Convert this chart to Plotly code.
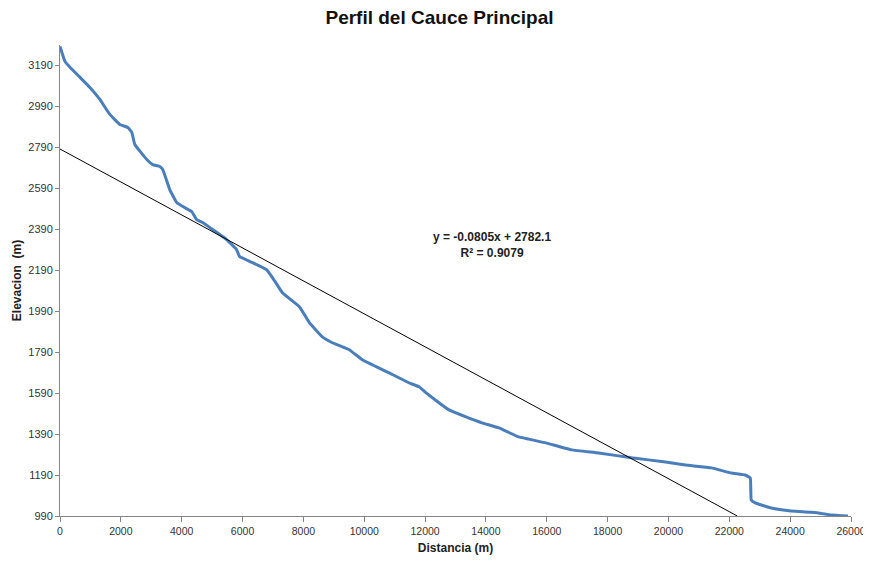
import plotly.graph_objects as go

distancia = [0, 164, 328, 656, 984, 1311, 1639, 1967, 2230, 2361, 2459, 2852, 3049, 3279, 3377,
             3607, 3836, 4098, 4328, 4492, 4689, 5016, 5475, 5803, 5902, 6328, 6787, 6984,
             7311, 7869, 8197, 8623, 8951, 9508, 9934, 10393, 10820, 11475, 11803, 12033,
             12787, 13344, 13869, 14426, 15082, 15967, 16820, 17705, 18787, 19902, 20557,
             21410, 22066, 22525, 22689, 22721, 22852, 23377, 24033, 24918, 25344, 25902]
elevacion = [3283, 3210, 3181, 3132, 3083, 3024, 2951, 2902, 2887, 2863, 2804, 2731, 2706, 2697, 2682,
             2584, 2521, 2496, 2477, 2437, 2423, 2389, 2340, 2291, 2257, 2227, 2193, 2154,
             2080, 2012, 1934, 1865, 1836, 1802, 1753, 1719, 1689, 1640, 1621, 1591,
             1508, 1474, 1445, 1420, 1376, 1347, 1313, 1298, 1274, 1254, 1239,
             1225, 1200, 1190, 1176, 1068, 1054, 1029, 1014, 1005, 995, 990]

slope = -0.0805
intercept = 2782.1
r2 = 0.9079
y_min, y_max = 990, 3290
x_ticks = list(range(0, 26001, 2000))
y_ticks = list(range(990, 3191, 200))

x_end = (y_min - intercept) / slope
trend_x = [0, x_end]
trend_y = [intercept + slope * v for v in trend_x]

fig = go.Figure()
fig.add_trace(go.Scatter(x=distancia, y=elevacion, mode="lines",
                         line=dict(color="#4A7EBB", width=3, shape="spline", smoothing=0.3),
                         showlegend=False, hoverinfo="skip"))
fig.add_trace(go.Scatter(x=trend_x, y=trend_y, mode="lines",
                         line=dict(color="#000000", width=1),
                         showlegend=False, hoverinfo="skip"))

font_family = "Liberation Sans"
fig.add_annotation(x=14200, y=2315, xref="x", yref="y",
                   text=f"<b>y = {slope}x + {intercept}<br>R² = {r2}</b>",
                   showarrow=False, align="center",
                   font=dict(family=font_family, size=12, color="#222222"))

# page body has an 8px margin, so the figure is offset by 8px
fig.update_layout(
    width=863, height=547,
    margin=dict(l=52, r=20, t=37, b=39),
    paper_bgcolor="white", plot_bgcolor="white",
    title=dict(text="<b>Perfil del Cauce Principal</b>", x=0.5, xanchor="center",
               y=0.9835, yanchor="middle",
               font=dict(family=font_family, size=19, color="#111111")),
    xaxis=dict(range=[0, 26000], tickvals=x_ticks, ticktext=[str(v) for v in x_ticks],
               automargin=False, ticklabeloverflow="allow",
               showgrid=False, zeroline=False, showline=True, linecolor="#868686", linewidth=1,
               ticks="outside", ticklen=5, tickcolor="#868686",
               tickfont=dict(family=font_family, size=10.5, color="#333333"),
               title=dict(text="<b>Distancia (m)</b>", standoff=8,
                          font=dict(family=font_family, size=12, color="#222222"))),
    yaxis=dict(range=[y_min, y_max], tickvals=y_ticks, ticktext=[str(v) for v in y_ticks],
               automargin=False,
               showgrid=False, zeroline=False, showline=True, linecolor="#868686", linewidth=1,
               ticks="outside", ticklen=4, tickcolor="#868686",
               tickfont=dict(family=font_family, size=11, color="#333333"),
               title=dict(text="<b>Elevacion  (m)</b>", standoff=4,
                          font=dict(family=font_family, size=12, color="#222222"))),
)

fig.write_html("out.html")
